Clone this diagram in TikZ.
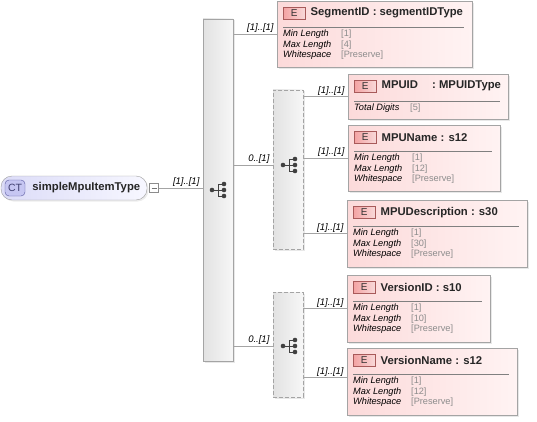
\documentclass[tikz,border=0pt]{standalone}
\usepackage{fontspec}
\setmainfont{Liberation Sans}
\usepackage{array}
\usetikzlibrary{positioning,shadows}

\definecolor{lineGray}{HTML}{A4A4A4}
\definecolor{barGrayL}{HTML}{E2E2E2}
\definecolor{barGrayR}{HTML}{F7F7F7}
\definecolor{elemPinkL}{HTML}{FCDADA}
\definecolor{elemPinkR}{HTML}{FFF3F3}
\definecolor{badgeRed}{HTML}{F2B4B4}
\definecolor{badgeLine}{HTML}{A85A5A}
\definecolor{ctBlueL}{HTML}{DCDCF8}
\definecolor{ctBlueR}{HTML}{F7F7FF}
\definecolor{ctBadge}{HTML}{C6C6F2}
\definecolor{ctBadgeLine}{HTML}{5A5AA0}
\definecolor{valGray}{HTML}{8C8C8C}
\definecolor{iconGray}{HTML}{404040}

\begin{document}
\begin{tikzpicture}[x=1pt,y=-1pt,
    conn/.style={draw=lineGray,line width=0.8pt},
    card/.style={font=\fontsize{9.5}{10}\selectfont\itshape,inner sep=1pt,anchor=south east},
    bar/.style={draw=lineGray,left color=barGrayL,right color=barGrayR,minimum width=30pt,inner sep=0pt,
      drop shadow={shadow xshift=1.5pt,shadow yshift=-1.5pt,fill=black!18}},
    optbar/.style={bar,dashed,dash pattern=on 4pt off 2pt},
    elem/.style={draw=lineGray,left color=elemPinkL,right color=elemPinkR,anchor=north west,inner sep=0pt,
      drop shadow={shadow xshift=2pt,shadow yshift=-2pt,fill=black!18}},
    ebadge/.style={draw=badgeLine,left color=badgeRed!90!red,right color=badgeRed!50,anchor=north west,
      minimum width=22pt,minimum height=12pt,inner sep=0pt,font=\fontsize{10}{11}\selectfont,text=black!80},
    etitle/.style={font=\fontsize{11.3}{13}\selectfont\bfseries,inner sep=0pt,text=black!85},
    sepline/.style={draw=black!50,line width=0.6pt},
    props/.style={font=\fontsize{9.2}{10.5}\selectfont,inner sep=0pt,anchor=north west},
    seqicon/.style={minimum size=19pt,inner sep=0pt,path picture={
      \begin{scope}[shift={(path picture bounding box.center)},iconGray]
        \draw[line width=0.9pt] (-6,0) -- (0,0) (0,-6) -- (0,6) (0,-6) -- (6,-6) (0,0) -- (6,0) (0,6) -- (6,6);
        \foreach \dy in {-6,0,6} \fill (6,\dy) circle (2.3pt);
        \fill (-6,0) circle (2.3pt);
      \end{scope}}},
    ctnode/.style={draw=black!38,left color=ctBlueL,right color=ctBlueR,rounded corners=11pt,
      minimum width=146pt,minimum height=24pt,inner sep=0pt,
      drop shadow={shadow xshift=1.5pt,shadow yshift=-1.5pt,fill=black!15}},
    ctbadge/.style={draw=ctBadgeLine,fill=ctBadge,rounded corners=4pt,minimum width=20pt,minimum height=16pt,
      inner sep=0pt,font=\fontsize{10.5}{11}\selectfont,text=ctBadgeLine!70!black},
    expander/.style={draw=black!45,fill=white,minimum size=9pt,inner sep=0pt,path picture={
      \draw[black!55] ([xshift=-2.5pt]path picture bounding box.center) -- ([xshift=2.5pt]path picture bounding box.center);}},
  ]
  \useasboundingbox (0,0) rectangle (537,422);

  % complex type
  \node[ctnode] (ct) at (74,188) {};
  \node[ctbadge] (ctBadge) at (15,188) {CT};
  \node[etitle, right=7pt of ctBadge] (ctTitle) {simpleMpuItemType};
  \node[expander] (ctExp) at (154,188) {};

  % sequences
  \node[bar, minimum height=342pt] (mainBar) at (218,190) {};
  \node[seqicon] (mainIcon) at (218,190) {};
  \node[optbar, minimum height=159pt] (mpuBar) at (288,169.5) {};
  \node[seqicon] (mpuIcon) at (289,165) {};
  \node[optbar, minimum height=105pt] (verBar) at (288,344.5) {};
  \node[seqicon] (verIcon) at (289,346) {};

  \draw[conn] (ctExp.east) -- node[card, pos=1, xshift=-2pt] {[1]..[1]} (mainBar.west |- ctExp.east);
  \draw[conn] (mainBar.east |- mpuIcon) -- node[card, pos=1, xshift=-2pt] {0..[1]} (mpuBar.west |- mpuIcon);
  \draw[conn] (mainBar.east |- verIcon) -- node[card, pos=1, xshift=-2pt] {0..[1]} (verBar.west |- verIcon);

  % SegmentID
  \node[elem, minimum width=195pt, minimum height=66pt] (segBox) at (277,1) {};
  \node[ebadge] (segE) at ([xshift=6pt,yshift=-6pt]segBox.north west) {E};
  \node[etitle, right=5pt of segE] (segTitle) {SegmentID : segmentIDType};
  \draw[sepline] ([xshift=6pt,yshift=-26pt]segBox.north west) -- ([xshift=-8pt,yshift=-26pt]segBox.north east);
  \node[props] (segProps) at ([xshift=6pt,yshift=-28pt]segBox.north west)
    {\begin{tabular}{@{}>{\itshape}p{58pt}@{}>{\color{valGray}}l@{}}
      Min Length & [1]\\ Max Length & [4]\\ Whitespace & [Preserve]
    \end{tabular}};
  \draw[conn] (mainBar.east |- segBox.west) -- node[card, pos=1, xshift=-2pt] {[1]..[1]} (segBox.west);

  % MPUID
  \node[elem, minimum width=160pt, minimum height=45pt] (mpuidBox) at (348,74) {};
  \node[ebadge] (mpuidE) at ([xshift=6pt,yshift=-6pt]mpuidBox.north west) {E};
  \node[etitle, right=5pt of mpuidE] (mpuidTitle) {MPUID\hspace{11pt} : MPUIDType};
  \draw[sepline] ([xshift=6pt,yshift=-27pt]mpuidBox.north west) -- ([xshift=-8pt,yshift=-27pt]mpuidBox.north east);
  \node[props] (mpuidProps) at ([xshift=6pt,yshift=-29pt]mpuidBox.north west)
    {\begin{tabular}{@{}>{\itshape}p{56pt}@{}>{\color{valGray}}l@{}}
      Total Digits & [5]
    \end{tabular}};
  \draw[conn] (mpuBar.east |- mpuidBox.west) -- node[card, pos=1, xshift=-2pt] {[1]..[1]} (mpuidBox.west);

  % MPUName
  \node[elem, minimum width=152pt, minimum height=66pt] (mpuNameBox) at (348,125) {};
  \node[ebadge] (mpuNameE) at ([xshift=6pt,yshift=-6pt]mpuNameBox.north west) {E};
  \node[etitle, right=5pt of mpuNameE] (mpuNameTitle) {MPUName : s12};
  \draw[sepline] ([xshift=6pt,yshift=-26pt]mpuNameBox.north west) -- ([xshift=-8pt,yshift=-26pt]mpuNameBox.north east);
  \node[props] (mpuNameProps) at ([xshift=6pt,yshift=-28pt]mpuNameBox.north west)
    {\begin{tabular}{@{}>{\itshape}p{58pt}@{}>{\color{valGray}}l@{}}
      Min Length & [1]\\ Max Length & [12]\\ Whitespace & [Preserve]
    \end{tabular}};
  \draw[conn] (mpuBar.east |- mpuNameBox.west) -- node[card, pos=1, xshift=-2pt] {[1]..[1]} (mpuNameBox.west);

  % MPUDescription
  \node[elem, minimum width=180pt, minimum height=67pt] (mpuDescBox) at (347,200) {};
  \node[ebadge] (mpuDescE) at ([xshift=6pt,yshift=-6pt]mpuDescBox.north west) {E};
  \node[etitle, right=5pt of mpuDescE] (mpuDescTitle) {MPUDescription : s30};
  \draw[sepline] ([xshift=6pt,yshift=-26pt]mpuDescBox.north west) -- ([xshift=-8pt,yshift=-26pt]mpuDescBox.north east);
  \node[props] (mpuDescProps) at ([xshift=6pt,yshift=-28pt]mpuDescBox.north west)
    {\begin{tabular}{@{}>{\itshape}p{58pt}@{}>{\color{valGray}}l@{}}
      Min Length & [1]\\ Max Length & [30]\\ Whitespace & [Preserve]
    \end{tabular}};
  \draw[conn] (mpuBar.east |- mpuDescBox.west) -- node[card, pos=1, xshift=-2pt] {[1]..[1]} (mpuDescBox.west);

  % VersionID
  \node[elem, minimum width=143pt, minimum height=67pt] (verIdBox) at (347,275) {};
  \node[ebadge] (verIdE) at ([xshift=6pt,yshift=-6pt]verIdBox.north west) {E};
  \node[etitle, right=5pt of verIdE] (verIdTitle) {VersionID : s10};
  \draw[sepline] ([xshift=6pt,yshift=-26pt]verIdBox.north west) -- ([xshift=-8pt,yshift=-26pt]verIdBox.north east);
  \node[props] (verIdProps) at ([xshift=6pt,yshift=-28pt]verIdBox.north west)
    {\begin{tabular}{@{}>{\itshape}p{58pt}@{}>{\color{valGray}}l@{}}
      Min Length & [1]\\ Max Length & [10]\\ Whitespace & [Preserve]
    \end{tabular}};
  \draw[conn] (verBar.east |- verIdBox.west) -- node[card, pos=1, xshift=-2pt] {[1]..[1]} (verIdBox.west);

  % VersionName
  \node[elem, minimum width=170pt, minimum height=67pt] (verNameBox) at (347,348) {};
  \node[ebadge] (verNameE) at ([xshift=6pt,yshift=-6pt]verNameBox.north west) {E};
  \node[etitle, right=5pt of verNameE] (verNameTitle) {VersionName : s12};
  \draw[sepline] ([xshift=6pt,yshift=-26pt]verNameBox.north west) -- ([xshift=-8pt,yshift=-26pt]verNameBox.north east);
  \node[props] (verNameProps) at ([xshift=6pt,yshift=-28pt]verNameBox.north west)
    {\begin{tabular}{@{}>{\itshape}p{58pt}@{}>{\color{valGray}}l@{}}
      Min Length & [1]\\ Max Length & [12]\\ Whitespace & [Preserve]
    \end{tabular}};
  \coordinate (verNameIn) at ([yshift=4pt]verNameBox.west);
  \draw[conn] (verBar.east |- verNameIn) -- node[card, pos=1, xshift=-2pt] {[1]..[1]} (verNameIn);
\end{tikzpicture}
\end{document}
